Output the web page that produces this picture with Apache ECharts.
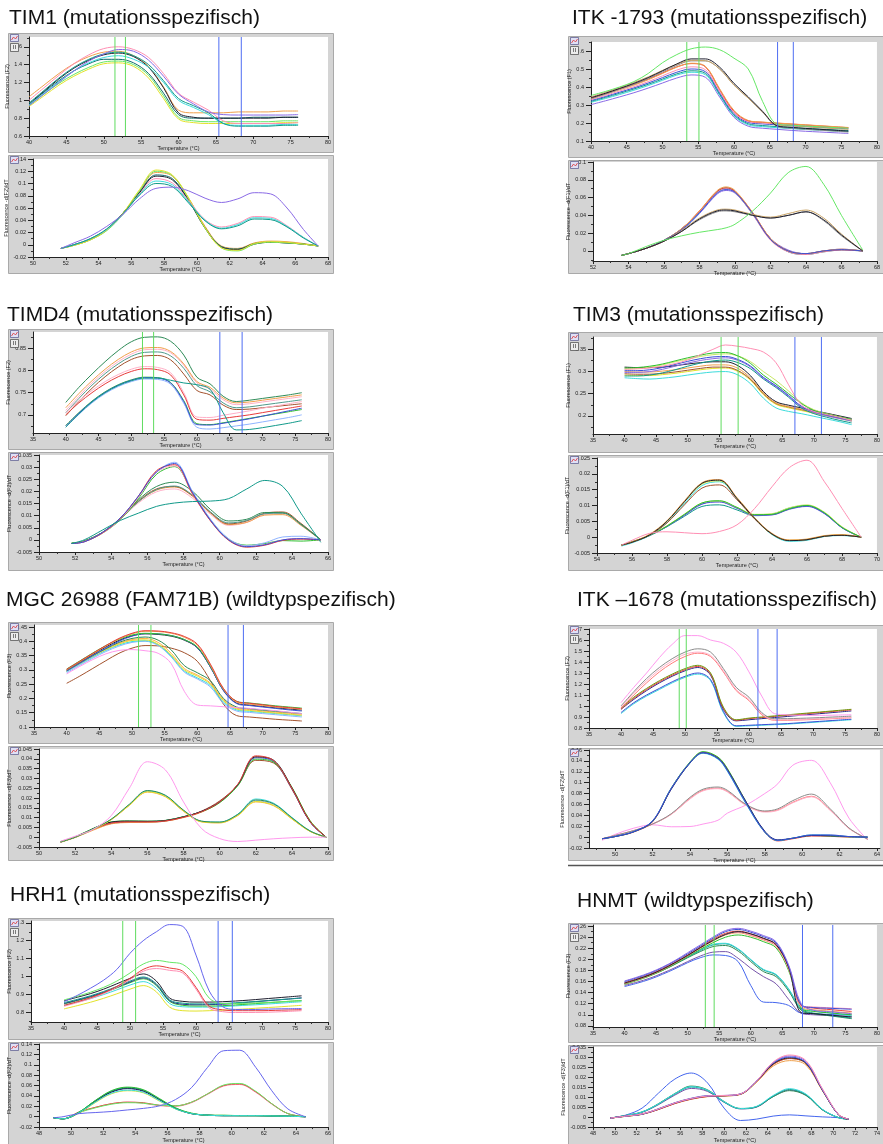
<!DOCTYPE html>
<html><head><meta charset="utf-8">
<script src="https://cdn.jsdelivr.net/npm/echarts@6/dist/echarts.min.js"></script>
<style>html,body{margin:0;padding:0;background:#fff}#c{width:883px;height:1144px}</style>
</head><body><div id="c"></div><script>
// ================= DATA =================
const meltT = [40,42,44,46,48,50,52,54,56,58,60,62,64,66,68,70,72,74,76];
const xT35 = [35,40,45,50,55,60,65,70,75,80];
const xT40 = [40,45,50,55,60,65,70,75,80];

// ---- TIM1 ----
const tim1Cursor = [51.5, 52.9, 65.4, 68.4];
const tim1UpY = [0.6,0.8,1,1.2,1.4,1.6];
const tim1LoY = [-0.02,0,0.02,0.04,0.06,0.08,0.1,0.12,0.14];
const tim1LoX = [50,52,54,56,58,60,62,64,66,68];
const tim1U_yellow = [0.93,1.05,1.17,1.27,1.35,1.41,1.42,1.38,1.25,1.02,0.79,0.75,0.74,0.74,0.74,0.74,0.74,0.75,0.75];
const tim1U_lgreen = [0.94,1.07,1.19,1.29,1.37,1.43,1.44,1.40,1.28,1.05,0.81,0.77,0.76,0.76,0.76,0.76,0.76,0.77,0.77];
const tim1U_dteal = [0.95,1.09,1.22,1.33,1.41,1.46,1.46,1.42,1.30,1.08,0.84,0.80,0.80,0.80,0.80,0.81,0.81,0.81,0.81];
const tim1U_orange = [1.04,1.17,1.30,1.41,1.49,1.54,1.55,1.50,1.38,1.15,0.89,0.86,0.86,0.86,0.87,0.87,0.87,0.88,0.88];
const tim1U_black = [0.96,1.10,1.24,1.36,1.45,1.51,1.53,1.49,1.37,1.14,0.86,0.81,0.80,0.80,0.80,0.80,0.80,0.81,0.81];
const tim1U_pink = [1.0,1.14,1.28,1.41,1.51,1.58,1.60,1.57,1.48,1.30,1.08,0.98,0.89,0.77,0.74,0.74,0.74,0.74,0.75];
const tim1U_cyan = [0.95,1.08,1.21,1.33,1.42,1.48,1.50,1.46,1.37,1.20,1.00,0.92,0.84,0.74,0.72,0.72,0.72,0.73,0.73];
const tim1U_teal = [0.97,1.11,1.25,1.37,1.46,1.52,1.54,1.50,1.40,1.22,1.02,0.94,0.86,0.74,0.71,0.71,0.71,0.72,0.72];
const tim1U_purple = [0.94,1.07,1.2,1.33,1.44,1.52,1.57,1.55,1.45,1.27,1.07,0.96,0.87,0.84,0.835,0.835,0.835,0.835,0.84];
const tim1DT = [51.7,52.5,53.5,54.5,55.5,56.5,57.5,58.5,59.5,60.5,61.5,62.5,63.5,64.5,65.5,66.5,67.4];
const tim1D_yellow = [-0.006,-0.001,0.008,0.024,0.052,0.09,0.122,0.114,0.076,0.028,-0.005,-0.009,0.002,0.005,0.004,0.001,-0.002];
const tim1D_lgreen = [-0.006,-0.001,0.008,0.023,0.05,0.088,0.12,0.113,0.075,0.027,-0.005,-0.01,0.001,0.004,0.003,0.001,-0.002];
const tim1D_dteal = [-0.006,0.0,0.009,0.025,0.052,0.086,0.114,0.108,0.073,0.028,-0.003,-0.007,0.002,0.004,0.003,0.001,-0.002];
const tim1D_orange = [-0.006,-0.001,0.008,0.024,0.051,0.087,0.118,0.112,0.076,0.03,-0.002,-0.006,0.003,0.006,0.005,0.002,-0.002];
const tim1D_black = [-0.006,0.0,0.009,0.025,0.052,0.085,0.112,0.106,0.072,0.027,-0.004,-0.008,0.001,0.004,0.003,0.001,-0.002];
const tim1D_pink = [-0.006,0.0,0.01,0.025,0.05,0.083,0.108,0.101,0.072,0.041,0.029,0.035,0.046,0.045,0.031,0.012,-0.002];
const tim1D_cyan = [-0.006,0.0,0.01,0.025,0.05,0.082,0.104,0.098,0.07,0.04,0.027,0.033,0.044,0.043,0.03,0.012,-0.002];
const tim1D_teal = [-0.006,0.0,0.01,0.026,0.051,0.081,0.1,0.095,0.068,0.039,0.026,0.031,0.042,0.041,0.029,0.011,-0.002];
const tim1D_purple = [-0.006,0.003,0.014,0.03,0.05,0.075,0.092,0.094,0.088,0.076,0.069,0.075,0.085,0.083,0.06,0.025,-0.002];

// ---- ITK -1793 ----
const itkaCursor = [53.4, 55.1, 66.1, 68.3];
const itkaUpY = [0.1,0.2,0.3,0.4,0.5,0.6];
const itkaLoY = [0,0.02,0.04,0.06,0.08,0.1];
const itkaLoX = [52,54,56,58,60,62,64,66,68];
const itkaU_orange = [0.335,0.36,0.385,0.41,0.44,0.475,0.51,0.532,0.515,0.39,0.27,0.214,0.205,0.2,0.195,0.19,0.185,0.18,0.175];
const itkaU_red = [0.34,0.364,0.39,0.415,0.444,0.478,0.512,0.53,0.512,0.385,0.265,0.212,0.204,0.199,0.194,0.189,0.184,0.179,0.174];
const itkaU_pink = [0.33,0.353,0.378,0.402,0.43,0.462,0.494,0.512,0.496,0.375,0.258,0.208,0.2,0.195,0.19,0.185,0.18,0.176,0.172];
const itkaU_blue = [0.325,0.347,0.371,0.395,0.422,0.452,0.482,0.5,0.485,0.368,0.252,0.203,0.195,0.19,0.185,0.18,0.176,0.172,0.168];
const itkaU_teal = [0.32,0.342,0.365,0.389,0.415,0.444,0.473,0.49,0.476,0.36,0.245,0.196,0.186,0.18,0.175,0.17,0.166,0.162,0.158];
const itkaU_cyan = [0.315,0.336,0.358,0.382,0.408,0.437,0.466,0.482,0.468,0.354,0.24,0.19,0.18,0.174,0.169,0.164,0.16,0.156,0.152];
const itkaU_purple = [0.302,0.323,0.345,0.368,0.394,0.422,0.45,0.467,0.454,0.344,0.232,0.182,0.171,0.165,0.159,0.154,0.15,0.146,0.142];
const itkaU_black = [0.34,0.365,0.392,0.42,0.452,0.49,0.528,0.556,0.556,0.51,0.42,0.345,0.265,0.185,0.176,0.17,0.165,0.16,0.155];
const itkaU_tan = [0.345,0.37,0.397,0.425,0.456,0.492,0.526,0.548,0.546,0.5,0.41,0.338,0.262,0.19,0.184,0.179,0.174,0.169,0.165];
const itkaU_gray = [0.335,0.36,0.387,0.415,0.447,0.484,0.52,0.545,0.545,0.5,0.412,0.338,0.26,0.182,0.171,0.165,0.16,0.155,0.15];
const itkaU_green = [0.353,0.375,0.4,0.43,0.475,0.535,0.58,0.612,0.622,0.607,0.56,0.5,0.32,0.195,0.188,0.183,0.179,0.175,0.171];
const itkaDT = [53.6,54,55,56,57,58,59,59.5,60,61,62,63,64,65,66,67.2];
const itkaD_orange = [-0.005,-0.003,0.003,0.012,0.025,0.045,0.068,0.072,0.068,0.043,0.014,0.0,-0.003,0.0,0.002,0.0];
const itkaD_red = [-0.005,-0.003,0.003,0.012,0.025,0.045,0.067,0.071,0.067,0.043,0.014,0.0,-0.003,0.0,0.0015,0.0];
const itkaD_pink = [-0.005,-0.003,0.003,0.011,0.024,0.044,0.066,0.07,0.066,0.041,0.012,-0.001,-0.004,-0.001,0.001,0.0];
const itkaD_blue = [-0.005,-0.003,0.003,0.012,0.024,0.043,0.065,0.069,0.066,0.042,0.013,0.0,-0.003,0.0,0.0015,0.0];
const itkaD_teal = [-0.005,-0.003,0.003,0.012,0.025,0.044,0.067,0.071,0.067,0.042,0.013,-0.001,-0.004,-0.001,0.001,0.0];
const itkaD_cyan = [-0.005,-0.003,0.003,0.012,0.024,0.043,0.066,0.07,0.066,0.041,0.013,0.0,-0.003,0.0,0.0015,0.0];
const itkaD_purple = [-0.005,-0.003,0.003,0.011,0.023,0.042,0.064,0.068,0.065,0.042,0.014,0.001,-0.003,0.0,0.002,0.0];
const itkaD_black = [-0.005,-0.003,0.003,0.011,0.022,0.036,0.045,0.046,0.045,0.04,0.037,0.04,0.044,0.035,0.018,0.0];
const itkaD_tan = [-0.005,-0.003,0.003,0.011,0.023,0.037,0.046,0.047,0.046,0.041,0.038,0.042,0.046,0.037,0.019,0.0];
const itkaD_gray = [-0.005,-0.003,0.003,0.011,0.022,0.035,0.044,0.045,0.044,0.04,0.037,0.04,0.044,0.034,0.017,0.0];
const itkaD_green = [-0.005,-0.003,0.005,0.012,0.017,0.021,0.024,0.026,0.03,0.045,0.065,0.088,0.095,0.075,0.04,0.001];

// ---- TIMD4 ----
const timd4Cursor = [51.7, 53.4, 63.5, 66.9];
const timd4UpY = [0.7,0.75,0.8,0.85];
const timd4LoY = [-0.005,0,0.005,0.01,0.015,0.02,0.025,0.03,0.035];
const timd4LoX = [50,52,54,56,58,60,62,64,66];
const timd4U_dgreen = [0.728,0.762,0.792,0.82,0.845,0.865,0.875,0.876,0.866,0.835,0.785,0.77,0.742,0.73,0.733,0.737,0.741,0.745,0.75];
const timd4U_orange = [0.716,0.748,0.777,0.803,0.825,0.842,0.851,0.852,0.843,0.815,0.775,0.762,0.738,0.727,0.729,0.733,0.737,0.741,0.745];
const timd4U_lpink = [0.71,0.742,0.772,0.798,0.82,0.837,0.847,0.848,0.84,0.812,0.772,0.758,0.734,0.723,0.725,0.729,0.733,0.737,0.741];
const timd4U_tgray = [0.705,0.737,0.767,0.793,0.815,0.832,0.841,0.842,0.833,0.805,0.766,0.752,0.727,0.716,0.718,0.722,0.726,0.73,0.734];
const timd4U_brown = [0.698,0.73,0.76,0.786,0.808,0.825,0.833,0.834,0.824,0.792,0.755,0.745,0.722,0.712,0.713,0.716,0.719,0.722,0.725];
const timd4U_red = [0.7,0.727,0.75,0.77,0.786,0.798,0.804,0.802,0.79,0.745,0.69,0.688,0.692,0.696,0.7,0.705,0.71,0.715,0.72];
const timd4U_pink = [0.705,0.732,0.755,0.775,0.791,0.803,0.809,0.807,0.795,0.75,0.695,0.694,0.699,0.704,0.709,0.715,0.72,0.725,0.73];
const timd4U_blue = [0.675,0.704,0.73,0.751,0.767,0.778,0.784,0.783,0.772,0.73,0.678,0.677,0.681,0.686,0.691,0.697,0.703,0.709,0.715];
const timd4U_lblue = [0.672,0.701,0.727,0.748,0.764,0.775,0.781,0.78,0.769,0.726,0.672,0.668,0.671,0.675,0.679,0.684,0.689,0.694,0.7];
const timd4U_green = [0.676,0.705,0.731,0.752,0.768,0.779,0.785,0.784,0.773,0.732,0.68,0.678,0.682,0.687,0.692,0.697,0.702,0.707,0.712];
const timd4U_teal = [0.672,0.702,0.729,0.75,0.766,0.777,0.783,0.783,0.778,0.772,0.768,0.758,0.705,0.666,0.667,0.671,0.676,0.681,0.687];
const timd4DT = [51.8,52.5,53.5,54.5,55.5,56.5,57.5,58.5,59.5,60.5,61.5,62.5,63.5,64.5,65.6];
const timd4D_blue = [-0.0015,-0.0008,0.003,0.009,0.018,0.028,0.0315,0.0195,0.008,0.0,-0.0028,-0.002,0.0,0.0005,0.0];
const timd4D_red = [-0.0015,-0.0008,0.0028,0.0088,0.018,0.0285,0.031,0.019,0.0078,-0.0002,-0.003,-0.0022,-0.0002,0.0003,0.0];
const timd4D_pink = [-0.0015,-0.0007,0.0027,0.0085,0.0175,0.0278,0.0305,0.0188,0.0078,0.0,-0.0027,-0.002,0.0,0.0006,0.0];
const timd4D_green = [-0.0012,-0.0006,0.0027,0.0083,0.017,0.027,0.0302,0.0192,0.008,0.0002,-0.0022,-0.0015,-0.0003,-0.0005,0.0];
const timd4D_lblue = [-0.0015,-0.0008,0.0029,0.0088,0.0178,0.028,0.032,0.02,0.0085,0.0005,-0.0024,-0.0012,0.0012,0.0015,0.0];
const timd4D_dgreen = [-0.0015,-0.0005,0.003,0.009,0.0165,0.022,0.0238,0.02,0.0125,0.0078,0.0085,0.0113,0.0112,0.0065,0.0];
const timd4D_orange = [-0.0015,-0.0005,0.003,0.0088,0.0158,0.0205,0.0218,0.018,0.011,0.0063,0.0072,0.0102,0.0104,0.006,0.0];
const timd4D_brown = [-0.0015,-0.0005,0.003,0.0088,0.016,0.021,0.022,0.0182,0.0112,0.0066,0.0078,0.011,0.0115,0.0068,0.0];
const timd4D_lpink = [-0.0015,-0.0005,0.003,0.0086,0.0152,0.0198,0.021,0.0172,0.0105,0.006,0.0072,0.0105,0.0108,0.0062,0.0];
const timd4D_tgray = [-0.0015,-0.0005,0.003,0.0087,0.0157,0.0207,0.0222,0.0185,0.0115,0.007,0.008,0.0108,0.011,0.0063,0.0];
const timd4D_teal = [-0.0015,0.0,0.004,0.008,0.011,0.0138,0.0152,0.0158,0.016,0.017,0.021,0.0245,0.022,0.011,-0.001];

// ---- TIM3 ----
const tim3Cursor = [55.3, 58.0, 67.0, 71.2];
const tim3UpY = [0.2,0.25,0.3,0.35];
const tim3LoY = [-0.005,0,0.005,0.01,0.015,0.02,0.025];
const tim3LoX = [54,56,58,60,62,64,66,68,70];
const tim3U_green = [0.308,0.309,0.312,0.317,0.324,0.331,0.337,0.342,0.343,0.335,0.318,0.292,0.272,0.25,0.228,0.212,0.204,0.198,0.192];
const tim3U_blue = [0.302,0.302,0.304,0.309,0.316,0.323,0.329,0.333,0.334,0.327,0.312,0.287,0.268,0.246,0.222,0.21,0.202,0.196,0.19];
const tim3U_purple = [0.298,0.298,0.3,0.305,0.312,0.319,0.325,0.329,0.331,0.325,0.31,0.285,0.266,0.244,0.22,0.208,0.2,0.194,0.188];
const tim3U_lgreen = [0.306,0.307,0.31,0.315,0.322,0.328,0.334,0.338,0.34,0.335,0.322,0.3,0.28,0.256,0.23,0.214,0.205,0.198,0.19];
const tim3U_teal = [0.29,0.29,0.292,0.297,0.304,0.312,0.319,0.324,0.326,0.32,0.306,0.283,0.264,0.242,0.218,0.205,0.197,0.19,0.184];
const tim3U_black = [0.31,0.309,0.309,0.31,0.313,0.317,0.32,0.322,0.322,0.313,0.29,0.255,0.232,0.224,0.218,0.212,0.206,0.2,0.194];
const tim3U_brown = [0.295,0.294,0.294,0.296,0.299,0.303,0.307,0.31,0.31,0.302,0.282,0.25,0.228,0.22,0.214,0.208,0.202,0.196,0.19];
const tim3U_orange = [0.292,0.291,0.291,0.293,0.296,0.3,0.304,0.307,0.308,0.3,0.28,0.248,0.226,0.218,0.212,0.206,0.2,0.194,0.188];
const tim3U_yellow = [0.3,0.299,0.299,0.301,0.304,0.308,0.312,0.315,0.315,0.307,0.285,0.252,0.229,0.221,0.215,0.209,0.203,0.197,0.191];
const tim3U_cyan = [0.286,0.284,0.283,0.285,0.288,0.292,0.296,0.299,0.3,0.292,0.272,0.24,0.218,0.21,0.205,0.199,0.193,0.187,0.18];
const tim3U_pink = [0.305,0.306,0.308,0.312,0.318,0.326,0.338,0.35,0.36,0.357,0.352,0.344,0.32,0.27,0.225,0.21,0.203,0.197,0.19];
const tim3DT = [55.4,56,57,58,59,60,61,62,63,64,65,66,67,68,69.1];
const tim3D_black = [-0.0025,-0.0016,0.0007,0.005,0.0112,0.017,0.018,0.0122,0.006,0.001,-0.0011,-0.0008,0.0003,0.0006,0.0];
const tim3D_orange = [-0.0025,-0.0015,0.0009,0.0052,0.0115,0.0172,0.0182,0.0125,0.0062,0.0012,-0.0009,-0.0006,0.0005,0.0008,0.0];
const tim3D_brown = [-0.0025,-0.0016,0.0006,0.0045,0.0102,0.0155,0.0165,0.0118,0.0058,0.001,-0.001,-0.0008,0.0003,0.0006,0.0];
const tim3D_cyan = [-0.0028,-0.0018,0.0005,0.0046,0.0106,0.0163,0.0175,0.0122,0.006,0.0008,-0.0013,-0.001,0.0002,0.0005,0.0];
const tim3D_yellow = [-0.0025,-0.0015,0.0008,0.005,0.0112,0.0168,0.0178,0.0123,0.006,0.001,-0.001,-0.0007,0.0004,0.0007,0.0];
const tim3D_green = [-0.0025,-0.0015,0.0005,0.0035,0.0072,0.0108,0.0115,0.0094,0.0071,0.0072,0.009,0.01,0.0077,0.0031,0.0];
const tim3D_blue = [-0.0025,-0.0015,0.0005,0.0034,0.007,0.0105,0.0112,0.0092,0.007,0.0071,0.0089,0.0098,0.0075,0.003,0.0];
const tim3D_purple = [-0.0025,-0.0015,0.0005,0.0034,0.0069,0.0104,0.0111,0.0091,0.0069,0.007,0.0088,0.0097,0.0074,0.003,0.0];
const tim3D_lgreen = [-0.0025,-0.0015,0.0006,0.0036,0.0073,0.0108,0.0114,0.0094,0.0072,0.0074,0.0093,0.0102,0.0079,0.0033,0.0];
const tim3D_teal = [-0.0025,-0.0015,0.0005,0.0033,0.0066,0.0097,0.0102,0.0086,0.0068,0.0072,0.0092,0.01,0.0076,0.003,0.0];
const tim3D_pink = [-0.0025,-0.001,0.0012,0.0017,0.0014,0.0011,0.0018,0.0039,0.009,0.0159,0.022,0.0243,0.0175,0.0091,0.0];

// ---- MGC 26988 ----
const mgcCursor = [51.0, 52.9, 64.7, 67.05];
const mgcUpY = [0.1,0.15,0.2,0.25,0.3,0.35,0.4,0.45];
const mgcLoY = [-0.005,0,0.005,0.01,0.015,0.02,0.025,0.03,0.035,0.04,0.045];
const mgcLoX = [50,52,54,56,58,60,62,64,66];
const mgcU_red = [0.302,0.33,0.358,0.385,0.41,0.428,0.437,0.436,0.43,0.417,0.39,0.32,0.235,0.19,0.183,0.178,0.172,0.168,0.164];
const mgcU_orange = [0.3,0.328,0.356,0.383,0.408,0.426,0.435,0.434,0.428,0.414,0.386,0.316,0.232,0.187,0.18,0.175,0.17,0.166,0.162];
const mgcU_blue = [0.296,0.323,0.35,0.376,0.4,0.418,0.427,0.426,0.42,0.406,0.378,0.31,0.227,0.182,0.175,0.17,0.165,0.16,0.156];
const mgcU_green = [0.303,0.331,0.359,0.385,0.407,0.422,0.428,0.426,0.42,0.406,0.38,0.313,0.232,0.19,0.184,0.179,0.174,0.17,0.166];
const mgcU_black = [0.3,0.327,0.354,0.38,0.403,0.419,0.426,0.424,0.418,0.404,0.377,0.31,0.228,0.184,0.177,0.172,0.167,0.163,0.159];
const mgcU_brown = [0.253,0.278,0.305,0.332,0.358,0.376,0.385,0.384,0.376,0.36,0.33,0.262,0.18,0.14,0.135,0.131,0.127,0.124,0.121];
const mgcU_dgreen = [0.297,0.324,0.35,0.374,0.396,0.41,0.415,0.404,0.37,0.315,0.29,0.262,0.2,0.17,0.164,0.159,0.155,0.151,0.147];
const mgcU_yellow = [0.296,0.322,0.348,0.371,0.39,0.403,0.405,0.39,0.352,0.3,0.278,0.25,0.192,0.163,0.158,0.153,0.149,0.145,0.141];
const mgcU_lblue = [0.29,0.316,0.341,0.364,0.383,0.396,0.4,0.385,0.345,0.292,0.268,0.24,0.183,0.156,0.151,0.147,0.143,0.139,0.135];
const mgcU_cyan = [0.294,0.32,0.345,0.368,0.387,0.399,0.402,0.388,0.348,0.296,0.272,0.245,0.187,0.16,0.155,0.151,0.147,0.143,0.139];
const mgcU_orange2 = [0.298,0.324,0.35,0.373,0.393,0.406,0.41,0.396,0.358,0.305,0.282,0.254,0.196,0.166,0.161,0.156,0.152,0.148,0.144];
const mgcU_pink = [0.286,0.312,0.336,0.356,0.368,0.371,0.367,0.358,0.322,0.225,0.177,0.174,0.171,0.168,0.165,0.161,0.157,0.152,0.147];
const mgcDT = [51.2,52,53,54,55,56,57,58,59,60,61,62,63,64,65,65.9];
const mgcD_red = [-0.0024,0.0,0.004,0.0072,0.0078,0.0078,0.0083,0.0102,0.013,0.018,0.027,0.0415,0.039,0.025,0.008,0.0];
const mgcD_orange = [-0.0026,-0.0002,0.0036,0.0068,0.0075,0.0076,0.0082,0.01,0.0128,0.0178,0.0268,0.041,0.0388,0.0252,0.0085,0.0];
const mgcD_blue = [-0.0024,0.0,0.0042,0.0075,0.008,0.008,0.0085,0.0104,0.0131,0.0179,0.0266,0.0405,0.0385,0.0248,0.0078,0.0];
const mgcD_green = [-0.0022,0.0002,0.0045,0.0078,0.0083,0.0082,0.0086,0.0105,0.013,0.0176,0.0262,0.0398,0.0382,0.0255,0.0085,0.0];
const mgcD_black = [-0.0024,0.0,0.0043,0.0077,0.0082,0.0081,0.0085,0.0104,0.0132,0.018,0.0268,0.041,0.0392,0.0252,0.008,0.0];
const mgcD_brown = [-0.0024,0.0,0.004,0.007,0.0076,0.0077,0.0082,0.0102,0.0133,0.0185,0.0265,0.0392,0.0378,0.0245,0.008,0.0];
const mgcD_dgreen = [-0.0024,0.0,0.0042,0.0092,0.0168,0.0238,0.0214,0.0138,0.0082,0.0077,0.0116,0.019,0.017,0.0099,0.0032,0.0];
const mgcD_yellow = [-0.0024,0.0,0.004,0.009,0.0163,0.0232,0.0208,0.0134,0.0079,0.0074,0.0111,0.0182,0.0162,0.0094,0.003,0.0];
const mgcD_lblue = [-0.0024,0.0,0.0041,0.009,0.0165,0.0235,0.021,0.0135,0.008,0.0076,0.0114,0.0186,0.0166,0.0097,0.0031,0.0];
const mgcD_cyan = [-0.0024,0.0,0.0041,0.0091,0.0166,0.0236,0.0212,0.0137,0.0081,0.0077,0.0117,0.0195,0.0173,0.0101,0.0033,0.0];
const mgcD_orange2 = [-0.0024,0.0,0.004,0.0089,0.0162,0.023,0.0206,0.0132,0.0078,0.0073,0.011,0.018,0.016,0.0093,0.003,0.0];
const mgcD_pink = [-0.002,0.0005,0.004,0.011,0.025,0.0385,0.0343,0.018,0.0044,-0.0007,-0.0022,-0.0015,-0.0008,-0.0003,0.0,0.0];

// ---- ITK -1678 ----
const itkbCursor = [49.1, 50.2, 61.4, 64.4];
const itkbUpY = [0.8,0.9,1,1.1,1.2,1.3,1.4,1.5,1.6,1.7];
const itkbLoY = [-0.02,0,0.02,0.04,0.06,0.08,0.1,0.12,0.14,0.16];
const itkbLoX = [50,52,54,56,58,60,62,64];
const itkbU_green = [0.98,1.08,1.16,1.23,1.29,1.34,1.37,1.3,0.99,0.875,0.89,0.9,0.91,0.92,0.93,0.94,0.95,0.96,0.97];
const itkbU_red = [0.97,1.07,1.15,1.22,1.28,1.33,1.36,1.29,0.98,0.87,0.885,0.895,0.905,0.915,0.925,0.935,0.945,0.955,0.965];
const itkbU_navy = [0.97,1.06,1.14,1.21,1.27,1.32,1.35,1.28,0.97,0.865,0.875,0.885,0.895,0.905,0.915,0.925,0.935,0.945,0.955];
const itkbU_blue = [0.94,1.03,1.1,1.16,1.22,1.27,1.3,1.24,0.95,0.82,0.825,0.83,0.835,0.84,0.848,0.856,0.864,0.872,0.88];
const itkbU_cyan = [0.93,1.02,1.09,1.15,1.21,1.26,1.29,1.23,0.94,0.815,0.82,0.825,0.83,0.835,0.843,0.851,0.859,0.867,0.875];
const itkbU_gray = [1.0,1.13,1.25,1.35,1.43,1.49,1.52,1.49,1.34,1.17,1.08,0.94,0.885,0.885,0.888,0.892,0.897,0.902,0.908];
const itkbU_lpink = [0.99,1.12,1.23,1.33,1.41,1.47,1.49,1.46,1.32,1.15,1.06,0.93,0.875,0.875,0.878,0.882,0.887,0.892,0.898];
const itkbU_salmon = [0.98,1.1,1.21,1.31,1.39,1.45,1.48,1.45,1.31,1.14,1.05,0.92,0.87,0.87,0.873,0.877,0.882,0.887,0.893];
const itkbU_pink = [1.03,1.17,1.3,1.44,1.56,1.64,1.64,1.6,1.57,1.49,1.31,1.09,0.93,0.92,0.915,0.915,0.915,0.918,0.92];
const itkbDT = [49.3,50,51,52,53,54,54.7,55.5,56,57,58,58.7,59.5,60.5,61.5,62.5,63.5];
const itkbD_green = [-0.003,0.001,0.01,0.029,0.09,0.138,0.157,0.147,0.126,0.065,0.01,-0.006,-0.002,0.003,0.002,0.0005,0.0];
const itkbD_red = [-0.003,0.001,0.0095,0.028,0.089,0.137,0.156,0.146,0.125,0.064,0.009,-0.007,-0.003,0.002,0.0015,0.0,0.0];
const itkbD_navy = [-0.003,0.001,0.0098,0.029,0.088,0.136,0.155,0.145,0.124,0.065,0.011,-0.005,-0.002,0.003,0.0025,0.001,0.0];
const itkbD_blue = [-0.003,0.0012,0.0102,0.03,0.09,0.137,0.155,0.144,0.122,0.062,0.009,-0.006,-0.002,0.004,0.004,0.001,0.0];
const itkbD_cyan = [-0.003,0.0012,0.0101,0.029,0.089,0.136,0.154,0.143,0.121,0.061,0.009,-0.006,-0.002,0.004,0.0035,0.001,0.0];
const itkbD_gray = [-0.003,0.003,0.012,0.024,0.043,0.073,0.088,0.092,0.086,0.06,0.048,0.052,0.067,0.079,0.052,0.017,-0.004];
const itkbD_lpink = [-0.003,0.003,0.012,0.024,0.042,0.07,0.085,0.089,0.083,0.058,0.046,0.049,0.063,0.074,0.049,0.016,-0.003];
const itkbD_salmon = [-0.003,0.003,0.012,0.024,0.042,0.071,0.086,0.09,0.084,0.059,0.047,0.05,0.064,0.075,0.05,0.016,-0.003];
const itkbD_pink = [-0.006,0.005,0.0165,0.0226,0.019,0.0195,0.024,0.031,0.044,0.059,0.08,0.098,0.132,0.141,0.1,0.035,-0.005];

// ---- HRH1 ----
const hrh1Cursor = [48.9, 50.85, 63.35, 65.5];
const hrh1UpY = [0.8,0.9,1,1.1,1.2,1.3];
const hrh1LoY = [-0.02,0,0.02,0.04,0.06,0.08,0.1,0.12,0.14];
const hrh1LoX = [48,50,52,54,56,58,60,62,64,66];
const hrh1U_black = [0.865,0.885,0.905,0.93,0.96,0.99,1.015,0.975,0.88,0.862,0.858,0.858,0.86,0.864,0.869,0.875,0.881,0.887,0.893];
const hrh1U_teal = [0.855,0.873,0.893,0.917,0.945,0.975,0.998,0.96,0.87,0.852,0.848,0.848,0.85,0.854,0.859,0.864,0.87,0.875,0.88];
const hrh1U_cyan = [0.84,0.858,0.877,0.9,0.926,0.953,0.972,0.935,0.85,0.832,0.83,0.83,0.833,0.837,0.841,0.845,0.85,0.855,0.86];
const hrh1U_yellow = [0.82,0.838,0.857,0.879,0.904,0.93,0.95,0.915,0.83,0.81,0.808,0.81,0.813,0.817,0.821,0.826,0.83,0.835,0.84];
const hrh1U_green = [0.848,0.866,0.886,0.91,0.937,0.966,0.988,0.95,0.862,0.84,0.836,0.836,0.838,0.842,0.847,0.852,0.857,0.862,0.867];
const hrh1U_navy = [0.85,0.869,0.889,0.913,0.94,0.97,0.993,0.955,0.866,0.846,0.843,0.844,0.846,0.851,0.857,0.863,0.869,0.875,0.882];
const hrh1U_red = [0.84,0.86,0.882,0.91,0.945,0.99,1.04,1.06,1.048,1.03,0.94,0.835,0.815,0.81,0.81,0.81,0.812,0.814,0.816];
const hrh1U_pink = [0.835,0.855,0.877,0.905,0.94,0.983,1.03,1.045,1.035,1.02,0.93,0.825,0.805,0.8,0.8,0.801,0.803,0.806,0.81];
const hrh1U_lgreen = [0.87,0.89,0.913,0.94,0.975,1.02,1.07,1.09,1.08,1.068,1.0,0.88,0.85,0.85,0.852,0.855,0.858,0.862,0.866];
const hrh1U_blue = [0.86,0.895,0.935,0.98,1.04,1.13,1.2,1.25,1.29,1.28,1.12,0.92,0.833,0.817,0.816,0.818,0.82,0.821,0.822];
const hrh1DT = [48.9,49.5,50.5,51.5,52.5,53.5,54.5,55.5,56.5,57.5,58.5,59.5,60.5,61.5,62.5,63.5,64.6];
const hrh1D_black = [-0.002,-0.004,0.008,0.03,0.048,0.055,0.05,0.033,0.016,0.006,0.003,0.002,0.002,0.002,0.0015,0.001,0.0];
const hrh1D_teal = [-0.002,-0.004,0.009,0.031,0.049,0.056,0.051,0.034,0.017,0.006,0.003,0.002,0.002,0.002,0.0015,0.001,0.0];
const hrh1D_cyan = [-0.002,-0.004,0.008,0.028,0.045,0.051,0.047,0.031,0.015,0.006,0.003,0.002,0.002,0.002,0.0015,0.001,0.0];
const hrh1D_yellow = [-0.002,-0.004,0.007,0.027,0.044,0.05,0.046,0.03,0.015,0.006,0.003,0.002,0.002,0.002,0.0015,0.001,0.0];
const hrh1D_green = [-0.002,-0.004,0.009,0.031,0.05,0.057,0.052,0.035,0.017,0.007,0.003,0.003,0.002,0.002,0.0015,0.001,0.0];
const hrh1D_navy = [-0.002,-0.004,0.008,0.029,0.047,0.054,0.049,0.033,0.016,0.006,0.003,0.002,0.002,0.002,0.0015,0.001,0.0];
const hrh1D_red = [-0.002,-0.004,0.009,0.018,0.025,0.028,0.027,0.022,0.021,0.028,0.044,0.06,0.063,0.048,0.025,0.006,0.0];
const hrh1D_pink = [-0.002,-0.004,0.009,0.018,0.025,0.028,0.026,0.021,0.02,0.027,0.043,0.059,0.062,0.047,0.024,0.006,0.0];
const hrh1D_lgreen = [-0.002,-0.004,0.008,0.017,0.024,0.027,0.026,0.022,0.021,0.028,0.044,0.061,0.064,0.049,0.025,0.006,0.0];
const hrh1D_blue = [-0.002,0.0,0.006,0.008,0.01,0.013,0.016,0.021,0.033,0.056,0.095,0.127,0.128,0.095,0.05,0.015,0.0];

// ---- HNMT ----
const hnmtCursor = [52.8, 54.2, 68.2, 73.0];
const hnmtUpY = [0.08,0.1,0.12,0.14,0.16,0.18,0.2,0.22,0.24,0.26];
const hnmtLoY = [-0.005,0,0.005,0.01,0.015,0.02,0.025,0.03,0.035];
const hnmtLoX = [48,50,52,54,56,58,60,62,64,66,68,70,72,74];
const hnmtU_purple = [0.161,0.168,0.176,0.186,0.198,0.212,0.226,0.24,0.252,0.256,0.251,0.243,0.232,0.19,0.12,0.108,0.106,0.104,0.102];
const hnmtU_blue = [0.16,0.167,0.175,0.185,0.197,0.21,0.224,0.238,0.25,0.254,0.249,0.241,0.23,0.188,0.118,0.113,0.112,0.111,0.11];
const hnmtU_red = [0.158,0.165,0.173,0.183,0.195,0.208,0.222,0.236,0.247,0.251,0.246,0.238,0.227,0.186,0.117,0.112,0.11,0.108,0.106];
const hnmtU_orange = [0.156,0.163,0.171,0.181,0.193,0.206,0.22,0.233,0.244,0.248,0.243,0.235,0.224,0.183,0.114,0.109,0.107,0.105,0.103];
const hnmtU_pink = [0.157,0.164,0.172,0.182,0.194,0.207,0.221,0.234,0.245,0.249,0.244,0.236,0.225,0.184,0.116,0.114,0.113,0.112,0.111];
const hnmtU_green = [0.155,0.162,0.17,0.18,0.192,0.205,0.218,0.23,0.24,0.244,0.24,0.232,0.221,0.18,0.112,0.106,0.104,0.102,0.1];
const hnmtU_black = [0.157,0.164,0.172,0.182,0.194,0.207,0.221,0.234,0.245,0.25,0.246,0.238,0.227,0.186,0.104,0.102,0.1,0.098,0.096];
const hnmtU_teal = [0.157,0.164,0.172,0.181,0.192,0.204,0.216,0.226,0.228,0.218,0.199,0.181,0.172,0.146,0.11,0.103,0.1,0.097,0.094];
const hnmtU_cyan = [0.158,0.165,0.173,0.182,0.193,0.205,0.217,0.227,0.229,0.219,0.2,0.182,0.173,0.147,0.112,0.107,0.104,0.101,0.098];
const hnmtU_dgreen = [0.156,0.163,0.171,0.18,0.191,0.203,0.214,0.223,0.225,0.215,0.196,0.178,0.169,0.143,0.108,0.102,0.099,0.096,0.093];
const hnmtU_purple2 = [0.153,0.159,0.166,0.175,0.185,0.196,0.206,0.213,0.214,0.202,0.184,0.169,0.156,0.128,0.103,0.1,0.099,0.098,0.097];
const hnmtU_blue2 = [0.151,0.157,0.164,0.173,0.183,0.194,0.203,0.208,0.207,0.196,0.153,0.123,0.122,0.117,0.103,0.102,0.101,0.1,0.1];
const hnmtDT = [49.6,51,52.5,54,55.5,57,58.5,60,61.5,63,64.5,66,67.5,69,70.5,71.4];
const hnmtD_purple = [-0.0005,0.0005,0.0015,0.004,0.007,0.0092,0.0105,0.0107,0.0115,0.018,0.0272,0.0305,0.0278,0.014,0.0011,-0.001];
const hnmtD_blue = [-0.0005,0.0005,0.0015,0.0042,0.0072,0.0094,0.0107,0.0108,0.0116,0.0182,0.027,0.03,0.0272,0.0136,0.001,-0.001];
const hnmtD_red = [-0.0005,0.0004,0.0014,0.0038,0.0068,0.009,0.0103,0.0106,0.0114,0.0178,0.0262,0.0292,0.0268,0.0135,0.0011,-0.001];
const hnmtD_orange = [-0.0005,0.0004,0.0014,0.0038,0.0067,0.0089,0.0102,0.0105,0.0113,0.0175,0.0255,0.0282,0.026,0.0132,0.0012,-0.001];
const hnmtD_pink = [-0.0005,0.0005,0.0016,0.0041,0.0071,0.0093,0.0106,0.0108,0.0116,0.0182,0.0275,0.031,0.0282,0.0142,0.0012,-0.001];
const hnmtD_green = [-0.0005,0.0004,0.0014,0.0039,0.0069,0.0091,0.0104,0.0106,0.0114,0.0177,0.0263,0.0293,0.0268,0.0134,0.001,-0.0012];
const hnmtD_black = [-0.0005,0.0005,0.0015,0.004,0.007,0.0092,0.0105,0.0107,0.0115,0.0179,0.0266,0.0296,0.027,0.0136,0.001,-0.0012];
const hnmtD_teal = [-0.0005,0.0008,0.0025,0.0065,0.0115,0.015,0.0132,0.0075,0.0042,0.0052,0.0105,0.0138,0.0112,0.0038,-0.0003,-0.001];
const hnmtD_cyan = [-0.0005,0.0008,0.0026,0.0066,0.0117,0.0152,0.0134,0.0077,0.0043,0.0054,0.0108,0.0142,0.0115,0.0039,-0.0003,-0.001];
const hnmtD_dgreen = [-0.0005,0.0008,0.0026,0.0067,0.0118,0.0155,0.0136,0.0078,0.0043,0.0052,0.0102,0.0132,0.0108,0.0036,-0.0003,-0.001];
const hnmtD_purple2 = [-0.0005,0.0007,0.0024,0.0062,0.011,0.0143,0.0128,0.0074,0.0041,0.005,0.0103,0.0135,0.011,0.0037,-0.0003,-0.001];
const hnmtD_blue2 = [-0.0005,0.001,0.0045,0.012,0.019,0.022,0.017,0.0045,-0.0017,-0.001,0.0005,0.0011,0.0006,0.0001,-0.0003,-0.001];

// ================= STYLE / LAYOUT =================
const C = {
  yellow:'#e3e32a', lgreen:'#66e866', dteal:'#0f6b6b', orange:'#f0a04c', black:'#1e1e2e', pink:'#ff8fb4',
  cyan:'#3cdcdc', teal:'#119a8a', purple:'#8a6ae6', red:'#e83c3c', blue:'#3a4fd6', brown:'#a3522d',
  dgreen:'#2e8b57', gray:'#8c8c8c', navy:'#2a2a88', lblue:'#8fb4ff', tan:'#c9a466', salmon:'#ff7a7a',
  mpink:'#ff99ee', lpink:'#ffb0c8', tgray:'#4f9a8c', green:'#2fbf2f', ygreen:'#c8e866', orange2:'#ffb347'
};
const SF = '"Liberation Sans", Arial, sans-serif';
const CUR_GREEN = '#5fdc5f', CUR_BLUE = '#4e6df2';

const panels = [
 {title:'TIM1 (mutationsspezifisch)', tx:9, ty:8, box:[8,33,333,273], sep:152, F:'F2',
  up:{g:[29,37,299,99], x:[40,80], xt:xT40, y:[0.6,1.71], yt:tim1UpY, T:meltT, cur:tim1Cursor,
      c:[[tim1U_orange,C.orange],[tim1U_yellow,C.yellow],[tim1U_lgreen,C.lgreen],[tim1U_dteal,C.dteal],[tim1U_black,C.black],[tim1U_pink,C.pink],[tim1U_cyan,C.cyan],[tim1U_teal,C.teal],[tim1U_purple,C.purple]]},
  lo:{g:[33,159,295,98], x:[50,68], xt:tim1LoX, y:[-0.02,0.14], yt:tim1LoY, T:tim1DT,
      c:[[tim1D_orange,C.orange],[tim1D_dteal,C.dteal],[tim1D_black,C.black],[tim1D_lgreen,C.lgreen],[tim1D_yellow,C.yellow],[tim1D_pink,C.pink],[tim1D_cyan,C.cyan],[tim1D_teal,C.teal],[tim1D_purple,C.purple]]}},
 {title:'ITK -1793 (mutationsspezifisch)', tx:572, ty:8, box:[568,36,890,273], sep:157, F:'F1',
  up:{g:[591,42,298,99], x:[40,80], xt:xT40, y:[0.1,0.65], yt:itkaUpY, T:meltT, cur:itkaCursor,
      c:[[itkaU_purple,C.purple],[itkaU_cyan,C.cyan],[itkaU_teal,C.teal],[itkaU_blue,C.blue],[itkaU_pink,C.pink],[itkaU_red,C.red],[itkaU_orange,C.orange],[itkaU_gray,C.gray],[itkaU_tan,C.tan],[itkaU_black,C.black],[itkaU_green,C.lgreen]]},
  lo:{g:[593,162,296,99], x:[52,68], xt:itkaLoX, y:[-0.0113,0.1], yt:itkaLoY, T:itkaDT,
      c:[[itkaD_purple,C.purple],[itkaD_cyan,C.cyan],[itkaD_teal,C.teal],[itkaD_pink,C.pink],[itkaD_red,C.red],[itkaD_orange,C.orange],[itkaD_blue,C.blue],[itkaD_gray,C.gray],[itkaD_tan,C.tan],[itkaD_black,C.black],[itkaD_green,C.lgreen]]}},
 {title:'TIMD4 (mutationsspezifisch)', tx:7, ty:305, box:[8,329,333,570], sep:449, F:'F2',
  up:{g:[33,332,295,101], x:[35,80], xt:xT35, y:[0.659,0.887], yt:timd4UpY, T:meltT, cur:timd4Cursor,
      c:[[timd4U_brown,C.brown],[timd4U_tgray,C.tgray],[timd4U_lpink,C.lpink],[timd4U_orange,C.orange],[timd4U_dgreen,C.dgreen],[timd4U_green,C.green],[timd4U_lblue,C.lblue],[timd4U_blue,C.blue],[timd4U_pink,C.lpink],[timd4U_red,C.red],[timd4U_teal,C.teal]]},
  lo:{g:[39,455,289,97], x:[50,66], xt:timd4LoX, y:[-0.005,0.035], yt:timd4LoY, T:timd4DT,
      c:[[timd4D_lpink,C.lpink],[timd4D_orange,C.orange],[timd4D_brown,C.brown],[timd4D_tgray,C.tgray],[timd4D_dgreen,C.dgreen],[timd4D_green,C.green],[timd4D_lblue,C.lblue],[timd4D_pink,C.lpink],[timd4D_red,C.red],[timd4D_blue,C.blue],[timd4D_teal,C.teal]]}},
 {title:'TIM3 (mutationsspezifisch)', tx:573, ty:305, box:[568,332,890,570], sep:452, F:'F1',
  up:{g:[593,337,295,97], x:[35,80], xt:xT35, y:[0.159,0.378], yt:tim3UpY, T:meltT, cur:tim3Cursor,
      c:[[tim3U_cyan,C.cyan],[tim3U_orange,C.yellow],[tim3U_brown,C.brown],[tim3U_yellow,C.orange],[tim3U_black,C.black],[tim3U_teal,C.teal],[tim3U_purple,C.purple],[tim3U_blue,C.blue],[tim3U_lgreen,C.ygreen],[tim3U_green,C.green],[tim3U_pink,C.pink]]},
  lo:{g:[597,458,291,95], x:[54,70], xt:tim3LoX, y:[-0.005,0.025], yt:tim3LoY, T:tim3DT,
      c:[[tim3D_teal,C.teal],[tim3D_purple,C.purple],[tim3D_blue,C.blue],[tim3D_lgreen,C.ygreen],[tim3D_green,C.green],[tim3D_cyan,C.cyan],[tim3D_brown,C.brown],[tim3D_yellow,C.yellow],[tim3D_orange,C.orange],[tim3D_black,C.black],[tim3D_pink,C.pink]]}},
 {title:'MGC 26988 (FAM71B) (wildtypspezifisch)', tx:6, ty:590, box:[8,622,333,860], sep:743, F:'F3',
  up:{g:[34,625,294,102], x:[35,80], xt:xT35, y:[0.1,0.457], yt:mgcUpY, T:meltT, cur:mgcCursor,
      c:[[mgcU_brown,C.brown],[mgcU_lblue,C.lblue],[mgcU_cyan,C.cyan],[mgcU_yellow,C.yellow],[mgcU_orange2,C.orange2],[mgcU_dgreen,C.dgreen],[mgcU_black,C.black],[mgcU_blue,C.blue],[mgcU_green,C.green],[mgcU_orange,C.orange],[mgcU_red,C.red],[mgcU_pink,C.mpink]]},
  lo:{g:[39,749,289,98], x:[50,66], xt:mgcLoX, y:[-0.005,0.045], yt:mgcLoY, T:mgcDT,
      c:[[mgcD_brown,C.brown],[mgcD_orange,C.orange],[mgcD_blue,C.blue],[mgcD_green,C.green],[mgcD_black,C.black],[mgcD_red,C.red],[mgcD_lblue,C.lblue],[mgcD_cyan,C.cyan],[mgcD_orange2,C.orange2],[mgcD_yellow,C.yellow],[mgcD_dgreen,C.dgreen],[mgcD_pink,C.mpink]]}},
 {title:'ITK \u20131678 (mutationsspezifisch)', tx:577, ty:590, box:[568,625,890,860], sep:745, F:'F2',
  up:{g:[589,629,299,99], x:[35,80], xt:xT35, y:[0.8,1.7], yt:itkbUpY, T:meltT, cur:itkbCursor,
      c:[[itkbU_cyan,C.cyan],[itkbU_blue,C.blue],[itkbU_navy,C.navy],[itkbU_red,C.red],[itkbU_green,'#6f9a10'],[itkbU_salmon,C.salmon],[itkbU_lpink,C.lpink],[itkbU_gray,C.gray],[itkbU_pink,C.mpink]]},
  lo:{g:[589,750,299,98], x:[48.6,64.16], xt:itkbLoX, y:[-0.02,0.16], yt:itkbLoY, T:itkbDT,
      c:[[itkbD_pink,C.mpink],[itkbD_salmon,C.salmon],[itkbD_lpink,C.lpink],[itkbD_gray,C.gray],[itkbD_red,C.red],[itkbD_green,C.green],[itkbD_cyan,C.cyan],[itkbD_navy,C.navy],[itkbD_blue,C.blue]]}},
 {title:'HRH1 (mutationsspezifisch)', tx:10, ty:885, box:[8,918,333,1150], sep:1039, F:'F2',
  up:{g:[31,921,297,101], x:[35,80], xt:xT35, y:[0.747,1.31], yt:hrh1UpY, T:meltT, cur:hrh1Cursor,
      c:[[hrh1U_yellow,C.yellow],[hrh1U_cyan,C.cyan],[hrh1U_green,C.green],[hrh1U_navy,C.navy],[hrh1U_teal,C.teal],[hrh1U_black,C.black],[hrh1U_pink,C.pink],[hrh1U_red,C.red],[hrh1U_lgreen,C.lgreen],[hrh1U_blue,'#6666ee']]},
  lo:{g:[39,1044,289,97], x:[48,66], xt:hrh1LoX, y:[-0.02,0.14], yt:hrh1LoY, T:hrh1DT,
      c:[[hrh1D_pink,C.pink],[hrh1D_red,C.red],[hrh1D_lgreen,C.lgreen],[hrh1D_yellow,C.yellow],[hrh1D_navy,C.navy],[hrh1D_black,C.black],[hrh1D_teal,C.teal],[hrh1D_green,C.green],[hrh1D_cyan,C.cyan],[hrh1D_blue,'#6666ee']]}},
 {title:'HNMT (wildtypspezifisch)', tx:577, ty:891, box:[568,923,890,1150], sep:1042, F:'F3',
  up:{g:[593,925,295,102], x:[35,80], xt:xT35, y:[0.078,0.262], yt:hnmtUpY, T:meltT, cur:hnmtCursor,
      c:[[hnmtU_blue2,'#4466ee'],[hnmtU_purple2,'#7755aa'],[hnmtU_dgreen,C.dgreen],[hnmtU_teal,C.teal],[hnmtU_cyan,C.cyan],[hnmtU_green,C.green],[hnmtU_orange,C.orange],[hnmtU_pink,C.pink],[hnmtU_red,C.red],[hnmtU_black,C.black],[hnmtU_blue,C.blue],[hnmtU_purple,C.purple]]},
  lo:{g:[593,1047,296,96], x:[48,74], xt:hnmtLoX, y:[-0.005,0.035], yt:hnmtLoY, T:hnmtDT,
      c:[[hnmtD_blue2,'#4466ee'],[hnmtD_purple2,'#7755aa'],[hnmtD_dgreen,C.dgreen],[hnmtD_teal,C.teal],[hnmtD_cyan,C.cyan],[hnmtD_green,C.green],[hnmtD_orange,C.orange],[hnmtD_red,C.red],[hnmtD_black,C.black],[hnmtD_blue,C.blue],[hnmtD_purple,C.purple],[hnmtD_pink,C.pink]]}}
];

// ================= BUILD =================
function minors(t, r) {
  const out = [];
  for (let i = 0; i < t.length - 1; i++) out.push((t[i] + t[i + 1]) / 2);
  const s = t[1] - t[0];
  if (t[0] - s / 2 >= r[0]) out.unshift(t[0] - s / 2);
  if (t[t.length - 1] + s / 2 <= r[1]) out.push(t[t.length - 1] + s / 2);
  return out;
}
function fmt(v) { return String(+(+v).toFixed(4)); }
function mainAxis(gi, r, t, isX, name, gap) {
  return {type:'value', gridIndex:gi, min:r[0], max:r[1], position:isX?'bottom':'left',
    axisLine:{show:true, onZero:false, lineStyle:{color:'#222', width:1}},
    axisTick:{show:true, customValues:t, length:isX?3:5, lineStyle:{color:'#222', width:1}},
    axisLabel:{show:true, customValues:t, fontSize:5.5, color:'#222', fontFamily:SF, margin:isX?3:7, formatter:fmt},
    splitLine:{show:false}, name:name, nameLocation:'middle', nameGap:gap,
    nameTextStyle:{fontSize:5.5, color:'#222', fontFamily:SF}};
}
function minorAxis(gi, r, t, isX) {
  return {type:'value', gridIndex:gi, min:r[0], max:r[1], position:isX?'bottom':'left',
    axisLine:{show:false, onZero:false}, axisTick:{show:true, customValues:minors(t, r), length:2, lineStyle:{color:'#333', width:1}},
    axisLabel:{show:false}, splitLine:{show:false}};
}

const grid = [], xAxis = [], yAxis = [], series = [], graphic = [];
panels.forEach(p => {
  const [x1, y1, x2, y2] = p.box;
  graphic.push({type:'rect', z:-10, shape:{x:x1 + 0.5, y:y1 + 0.5, width:x2 - x1, height:p.sep - y1}, style:{fill:'#d4d4d4', stroke:'#a9a9a9', lineWidth:1}});
  graphic.push({type:'rect', z:-10, shape:{x:x1 + 0.5, y:p.sep + 3.5, width:x2 - x1, height:y2 - p.sep - 3}, style:{fill:'#d4d4d4', stroke:'#a9a9a9', lineWidth:1}});
  graphic.push({type:'text', z:20, x:p.tx, y:p.ty, style:{text:p.title, font:'21px "Liberation Sans", Arial, sans-serif', fill:'#111', align:'left', verticalAlign:'top'}});
  [[y1 + 1, true], [p.sep + 4, false]].forEach(([iy, btn]) => {
    const ix = x1 + 2;
    graphic.push({type:'rect', z:20, shape:{x:ix + 0.5, y:iy + 0.5, width:8, height:7}, style:{fill:'#dfe0f6', stroke:'#55558a', lineWidth:0.7}});
    graphic.push({type:'polyline', z:21, shape:{points:[[ix + 1.5, iy + 6], [ix + 3.5, iy + 3], [ix + 5.5, iy + 5], [ix + 7.5, iy + 2]]}, style:{stroke:'#d33', lineWidth:0.8, fill:null}});
    if (btn) {
      graphic.push({type:'rect', z:20, shape:{x:ix + 0.5, y:iy + 9.5, width:8, height:8}, style:{fill:'#ececec', stroke:'#444', lineWidth:0.7}});
      graphic.push({type:'text', z:21, x:ix + 4.5, y:iy + 10.5, style:{text:'II', font:'6px ' + SF, fill:'#222', align:'center', verticalAlign:'top'}});
    }
  });
  [p.up, p.lo].forEach((pl, k) => {
    const gi = grid.length;
    grid.push({left:pl.g[0], top:pl.g[1], width:pl.g[2], height:pl.g[3], show:true, backgroundColor:'#fff', borderWidth:0, containLabel:false});
    const xi = xAxis.length, yi = yAxis.length;
    xAxis.push(mainAxis(gi, pl.x, pl.xt, true, 'Temperature (\u00b0C)', 9));
    xAxis.push(minorAxis(gi, pl.x, pl.xt, true));
    const yn = k === 0 ? 'Fluorescence (' + p.F + ')' : 'Fluorescence -d(' + p.F + ')/dT';
    yAxis.push(mainAxis(gi, pl.y, pl.yt, false, yn, pl.g[0] - (x1 + 4)));
    yAxis.push(minorAxis(gi, pl.y, pl.yt, false));
    pl.c.forEach(([arr, col]) => {
      series.push({type:'line', xAxisIndex:xi, yAxisIndex:yi, data:pl.T.map((t, i) => [t, arr[i]]),
        symbol:'none', showSymbol:false, smooth:0.35, lineStyle:{width:1, color:col}, itemStyle:{color:col},
        silent:true, animation:false, clip:true, z:2});
    });
    if (pl.cur) {
      pl.cur.forEach((v, i) => {
        const col = i < 2 ? CUR_GREEN : CUR_BLUE;
        series.push({type:'line', xAxisIndex:xi, yAxisIndex:yi, data:[[v, pl.y[0]], [v, pl.y[1]]],
          symbol:'none', showSymbol:false, lineStyle:{width:1, color:col, type:'solid'}, itemStyle:{color:col},
          silent:true, animation:false, clip:true, z:3});
      });
    }
  });
});
graphic.push({type:'line', z:20, shape:{x1:568, y1:865.5, x2:883, y2:865.5}, style:{stroke:'#555', lineWidth:1.5}});

const chart = echarts.init(document.getElementById('c'), null, {renderer:'canvas'});
chart.setOption({animation:false, backgroundColor:'#fff', grid, xAxis, yAxis, series, graphic, tooltip:{show:false}});
</script></body></html>
